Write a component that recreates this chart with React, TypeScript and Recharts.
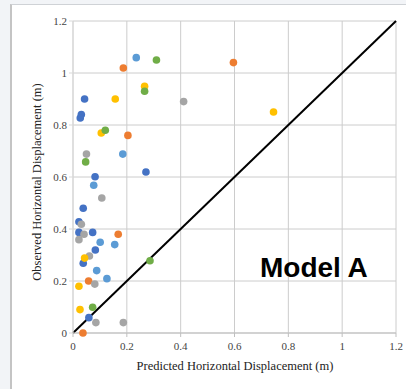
import React from 'react';
import { ScatterChart, Scatter, XAxis, YAxis, CartesianGrid, ReferenceLine } from 'recharts';

// points, grouped by marker colour
const darkBlue = [
  { x: 0.043, y: 0.9 }, { x: 0.031, y: 0.84 }, { x: 0.027, y: 0.827 }, { x: 0.271, y: 0.619 },
  { x: 0.082, y: 0.601 }, { x: 0.038, y: 0.48 }, { x: 0.022, y: 0.428 }, { x: 0.022, y: 0.387 },
  { x: 0.073, y: 0.387 }, { x: 0.083, y: 0.319 }, { x: 0.038, y: 0.268 }, { x: 0.059, y: 0.059 },
];
const orange = [
  { x: 0.187, y: 1.019 }, { x: 0.204, y: 0.76 }, { x: 0.168, y: 0.38 },
  { x: 0.058, y: 0.2 }, { x: 0.037, y: 0.0 }, { x: 0.596, y: 1.04 },
];
const gray = [
  { x: 0.05, y: 0.688 }, { x: 0.107, y: 0.519 }, { x: 0.031, y: 0.418 }, { x: 0.041, y: 0.38 },
  { x: 0.022, y: 0.359 }, { x: 0.061, y: 0.296 }, { x: 0.081, y: 0.188 }, { x: 0.085, y: 0.04 },
  { x: 0.187, y: 0.04 }, { x: 0.411, y: 0.89 },
];
const yellow = [
  { x: 0.266, y: 0.949 }, { x: 0.157, y: 0.9 }, { x: 0.105, y: 0.769 }, { x: 0.043, y: 0.288 },
  { x: 0.022, y: 0.18 }, { x: 0.026, y: 0.09 }, { x: 0.745, y: 0.85 },
];
const lightBlue = [
  { x: 0.235, y: 1.059 }, { x: 0.185, y: 0.688 }, { x: 0.077, y: 0.568 }, { x: 0.101, y: 0.349 },
  { x: 0.155, y: 0.34 }, { x: 0.088, y: 0.24 }, { x: 0.126, y: 0.209 },
];
const green = [
  { x: 0.31, y: 1.05 }, { x: 0.266, y: 0.93 }, { x: 0.12, y: 0.78 },
  { x: 0.047, y: 0.658 }, { x: 0.286, y: 0.278 }, { x: 0.073, y: 0.099 },
];

const ticks = [0, 0.2, 0.4, 0.6, 0.8, 1, 1.2];
const oneToOne = [{ x: 0, y: 0 }, { x: 1.2, y: 1.2 }];

const series = [
  { name: 'blue', data: darkBlue, color: '#4472C4' },
  { name: 'orange', data: orange, color: '#ED7D31' },
  { name: 'gray', data: gray, color: '#A5A5A5' },
  { name: 'yellow', data: yellow, color: '#FFC000' },
  { name: 'lightblue', data: lightBlue, color: '#5B9BD5' },
  { name: 'green', data: green, color: '#70AD47' },
];

const SERIF = '"Liberation Serif", "Times New Roman", serif';

const Dot = (props: any) => {
  const { cx, cy, fill } = props;
  return <circle cx={cx} cy={cy} r={3.8} fill={fill} />;
};

const YTitle = (props: any) => (
  <text
    x={37}
    y={182}
    transform="rotate(-90 37 182)"
    textAnchor="middle"
    dominantBaseline="central"
    fontFamily={SERIF}
    fontSize={12.5}
    fill="#222"
  >
    Observed Horizontal Displacement (m)
  </text>
);

const XTitle = (props: any) => (
  <text x={235} y={370} textAnchor="middle" fontFamily={SERIF} fontSize={12.5} fill="#222">
    Predicted Horizontal Displacement (m)
  </text>
);

export default function App() {
  return (
    <div style={{ position: 'absolute', left: 0, top: 0, width: 406, height: 389, background: '#f2f4f7', overflow: 'hidden' }}>
      <div
        style={{
          position: 'absolute', left: 10, top: 4, right: 0, bottom: 0,
          background: '#fff', borderLeft: '2px solid #c4c4c4', borderTop: '1px solid #cfd2d6',
        }}
      />
      <div style={{ position: 'absolute', left: 0, top: 0 }}>
        <ScatterChart width={406} height={389} margin={{ top: 21, right: 10, bottom: 0, left: 0 }}>
          <CartesianGrid stroke="#cccccc" strokeWidth={1} />
          <XAxis
            type="number"
            dataKey="x"
            domain={[0, 1.2]}
            ticks={ticks}
            height={56}
            tickSize={4}
            tickMargin={5}
            stroke="#bfbfbf"
            tick={{ fill: '#444', fontSize: 11, fontFamily: SERIF }}
            label={<XTitle />}
          />
          <YAxis
            type="number"
            dataKey="y"
            domain={[0, 1.2]}
            ticks={ticks}
            width={73}
            tickSize={4}
            stroke="#d9d9d9"
            tick={{ fill: '#444', fontSize: 11, fontFamily: SERIF }}
            label={<YTitle />}
          />
          <ReferenceLine segment={oneToOne} stroke="#000" strokeWidth={2} ifOverflow="visible" />
          {series.map((s) => (
            <Scatter key={s.name} name={s.name} data={s.data} fill={s.color} shape={<Dot />} isAnimationActive={false} />
          ))}
        </ScatterChart>
      </div>
      <div
        style={{
          position: 'absolute', left: 260, top: 254, fontFamily: '"Liberation Sans", Arial, sans-serif',
          fontWeight: 'bold', fontSize: 28, lineHeight: '28px', color: '#000', whiteSpace: 'nowrap',
        }}
      >
        Model A
      </div>
    </div>
  );
}
